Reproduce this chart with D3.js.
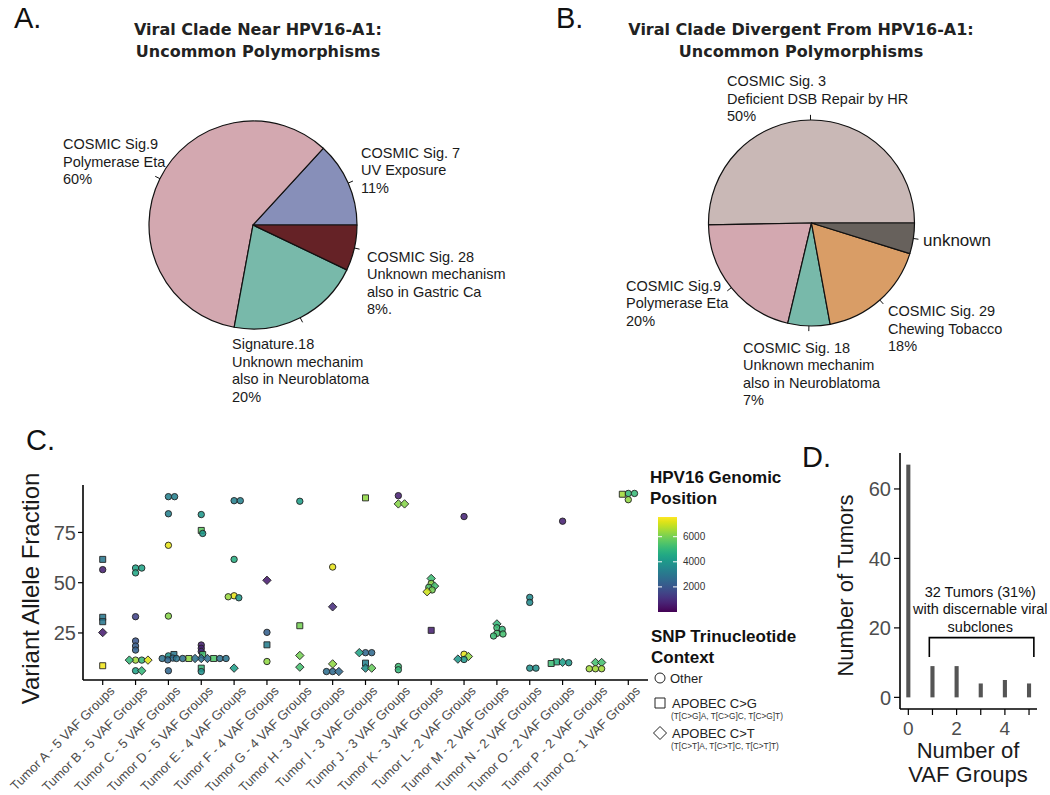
<!DOCTYPE html>
<html><head><meta charset="utf-8">
<script src="https://cdn.jsdelivr.net/npm/d3@7"></script>
<style>
body{margin:0;background:#fff;}
svg text{font-family:"Liberation Sans",Arial,Helvetica,sans-serif;}
</style></head><body>
<svg id="chart" width="1050" height="795"></svg>
<script>
// ---------------- DATA ----------------
// Panel A pie
const pieAValues = [13.2, 58.9, 20.8, 7.1];
const pieAColors = ["#878fb9", "#d3a8b0", "#78b9aa", "#652226"];
const pieALabels = [
  ["COSMIC Sig. 7", "UV Exposure", "11%"],
  ["COSMIC Sig.9", "Polymerase Eta", "60%"],
  ["Signature.18", "Unknown mechanim", "also in Neuroblatoma", "20%"],
  ["COSMIC Sig. 28", "Unknown mechanism", "also in Gastric Ca", "8%."]
];
// Panel B pie
const pieBValues = [50.3, 21.0, 6.6, 17.3, 4.8];
const pieBColors = ["#c9b8b6", "#d3a8b0", "#78b9aa", "#d99d66", "#67615c"];
const pieBLabels = [
  ["COSMIC Sig. 3", "Deficient DSB Repair by HR", "50%"],
  ["COSMIC Sig.9", "Polymerase Eta", "20%"],
  ["COSMIC Sig. 18", "Unknown mechanim", "also in Neuroblatoma", "7%"],
  ["COSMIC Sig. 29", "Chewing Tobacco", "18%"],
  ["unknown"]
];
const titleA = ["Viral Clade Near HPV16-A1:", "Uncommon Polymorphisms"];
const titleB = ["Viral Clade Divergent From HPV16-A1:", "Uncommon Polymorphisms"];

// Panel C scatter
const tumors = ["Tumor A - 5 VAF Groups","Tumor B - 5 VAF Groups","Tumor C - 5 VAF Groups","Tumor D - 5 VAF Groups",
  "Tumor E - 4 VAF Groups","Tumor F - 4 VAF Groups","Tumor G - 4 VAF Groups","Tumor H - 3 VAF Groups",
  "Tumor I - 3 VAF Groups","Tumor J - 3 VAF Groups","Tumor K - 3 VAF Groups","Tumor L - 2 VAF Groups",
  "Tumor M - 2 VAF Groups","Tumor N - 2 VAF Groups","Tumor O - 2 VAF Groups","Tumor P - 2 VAF Groups",
  "Tumor Q - 1 VAF Groups"];
// tumor index, VAF, HPV16 genomic position, context (O=Other, G=APOBEC C>G, T=APOBEC C>T)
const snvTumor = [0,0,0,0,0,0,
  1,1,1,1,1,1,1,1,1,1,1,1,1,
  2,2,2,2,2,2,2,2,2,2,2,
  3,3,3,3,3,3,3,3,3,3,3,3,3,3,3,3,3,3,
  4,4,4,4,4,4,4,
  5,5,5,5,
  6,6,6,6,
  7,7,7,7,7,7,
  8,8,8,8,8,8,8,
  9,9,9,9,9,
  10,10,10,10,10,10,10,
  11,11,11,11,11,
  12,12,12,12,12,12,
  13,13,13,13,
  14,14,14,14,14,
  15,15,15,15,15,
  16,16,16,16];
const snvVAF = [61.6,56.5,32.8,30.6,25.2,8.7,
  57.3,57.3,54.9,33.1,21.0,18.5,16.5,11.5,11.5,11.5,11.5,6.2,6.2,
  92.8,92.8,84.3,68.6,33.4,13.6,14.3,12.5,11.6,12.3,6.2,
  83.9,76.0,74.5,19.0,17.4,15.8,14.3,12.3,12.3,12.3,12.3,12.3,12.3,12.3,12.3,12.3,7.5,5.8,
  90.8,90.8,61.6,43.5,42.5,43.0,7.5,
  51.2,25.3,19.1,10.8,
  90.5,28.6,13.8,8.0,
  57.8,38.0,9.6,5.8,5.8,5.8,
  92.2,15.2,15.2,15.2,10.0,7.5,7.5,
  93.3,89.2,89.2,8.3,6.7,
  52.1,49.6,48.3,47.7,46.4,45.5,26.3,
  82.9,14.4,13.3,11.8,12.0,
  29.5,27.6,26.8,24.8,24.5,23.5,
  42.7,40.2,7.5,7.5,
  80.6,10.4,10.2,10.6,9.8,
  10.3,10.3,7.2,7.2,7.2,
  94.4,94.4,94.0,91.3];
const snvPos = [3000,700,3000,3000,600,7400,
  4400,4400,4500,1500,2000,2200,2300,6500,5000,5000,7200,4300,5000,
  3300,3300,3300,7300,6200,3900,3000,2600,2500,2800,2500,
  4000,5700,4000,700,700,900,5300,2700,2700,2800,5500,6300,2800,2800,2900,2900,5000,3800,
  3300,3300,4700,7300,4000,6400,4200,
  600,2300,3200,6300,
  4200,6000,6000,5300,
  7300,1000,6300,2600,2600,2700,
  6300,2500,2600,4400,3300,3800,5800,
  700,6200,6200,5200,5000,
  5200,6300,5300,5500,6000,7000,700,
  800,7300,6300,4000,4000,
  5000,5200,5000,5300,5300,5200,
  3600,3600,3800,3800,
  700,4200,4000,4800,5200,
  5300,5300,6500,6500,6500,
  5100,5100,6500,6300];
const snvCtx = ["G","O","G","G","T","G",
  "O","O","O","O","O","O","O","O","O","T","T","O","T",
  "O","O","O","O","O","O","G","O","O","O","O",
  "O","G","O","O","O","O","G","T","T","T","G","G","O","O","O","O","G","O",
  "O","O","O","O","O","O","T",
  "T","O","G","O",
  "O","G","T","T",
  "O","T","T","O","T","O",
  "G","O","O","T","G","T","T",
  "O","T","T","O","O",
  "T","O","T","O","O","T","G",
  "O","O","T","O","T",
  "T","O","O","O","O","O",
  "O","O","O","O",
  "O","T","O","G","G",
  "T","T","O","O","O",
  "O","O","G","O"];
const colorTicks = [2000, 4000, 6000];
const contextLabels = ["Other", "APOBEC C>G", "APOBEC C>T"];
const contextSub = ["", "(T[C>G]A, T[C>G]C, T[C>G]T)", "(T[C>T]A, T[C>T]C, T[C>T]T)"];
const contextCodes = ["O", "G", "T"];
const vafTicks = [25, 50, 75];

// Panel D histogram
const vafGroups = [0, 1, 2, 3, 4, 5];
const tumorCounts = [67, 9, 9, 4, 5, 4];
const countTicks = [0, 20, 40, 60];
const groupTickLabels = [0, 2, 4];
const bracketText = ["32 Tumors (31%)", "with discernable viral", "subclones"];

// ---------------- DRAW ----------------
const svg = d3.select("#chart");

// panel letters
[["A.",14,28],["B.",556,28],["C.",26,450],["D.",802,467]].forEach(([t,x,y])=>{
  svg.append("text").attr("x",x).attr("y",y).text(t)
    .style("font-size","29px").attr("fill","#111");
});

function title(lines, cx){
  lines.forEach((l,i)=>svg.append("text").attr("x",cx).attr("y",35+i*22).attr("text-anchor","middle")
    .style("font-family","'DejaVu Sans',sans-serif").style("font-weight","bold").style("font-size","16px")
    .attr("fill","#222").text(l));
}
title(titleA, 258);
title(titleB, 801);

function drawPie(cx, cy, r, values, colors, labels, pos, sizes){
  const g = svg.append("g").attr("transform",`translate(${cx},${cy})`);
  const arcs = d3.pie().sort(null).startAngle(Math.PI/2).endAngle(Math.PI/2 - 2*Math.PI)(values);
  const arc = d3.arc().innerRadius(0).outerRadius(r);
  g.selectAll("path").data(arcs).join("path").attr("d",arc)
    .attr("fill",(d,i)=>colors[i]).attr("stroke","#111").attr("stroke-width",1.2).attr("stroke-linejoin","round");
  arcs.forEach(a=>{
    const m=(a.startAngle+a.endAngle)/2;
    g.append("line").attr("x1",Math.sin(m)*r).attr("y1",-Math.cos(m)*r)
      .attr("x2",Math.sin(m)*r*1.05).attr("y2",-Math.cos(m)*r*1.05).attr("stroke","#111").attr("stroke-width",1);
  });
  labels.forEach((lines,i)=>{
    const t = svg.append("text").attr("x",pos[i][0]).attr("y",pos[i][1])
      .style("font-size",(sizes[i]||14.5)+"px").attr("fill","#1a1a1a");
    lines.forEach((l,j)=>t.append("tspan").attr("x",pos[i][0]).attr("y",pos[i][1]+j*17.5).text(l));
  });
}
drawPie(253, 225, 104, pieAValues, pieAColors, pieALabels,
  [[361,157.5],[63,149],[232,349],[367,261.5]], []);
drawPie(811.5, 223, 103, pieBValues, pieBColors, pieBLabels,
  [[727,86],[626,290.5],[743,352.5],[888,316],[923,246]], [14.5,14.5,14.5,14.5,17]);

// ---------- Panel C ----------
const cL=83, cR=648, cT=485, cB=680;
const x = d3.scalePoint().domain(tumors).range([cL,cR]).padding(0.6);
const y = d3.scaleLinear().domain([1.6,98.6]).range([cB,cT]);
const color = d3.scaleSequential(d3.interpolateViridis).domain([0,7570]);

const pts = snvVAF.map((v,i)=>({t:tumors[snvTumor[i]], v, pos:snvPos[i], ctx:snvCtx[i], py:y(v)}));
// beeswarm layout per tumor (anisotropic collision)
const D = 6.2, K = 2;
d3.group(pts, p=>p.t).forEach(arr=>{
  const placed=[];
  arr.forEach(p=>{
    const cands=[0];
    placed.forEach(q=>{
      const dy=(p.py-q.py)*K;
      if(Math.abs(dy)<D){ const dx=Math.sqrt(D*D-dy*dy); cands.push(q.ox+dx, q.ox-dx); }
    });
    cands.sort((a,b)=>Math.abs(a)-Math.abs(b) || b-a);
    for(const c of cands){
      if(placed.every(q=>{const dx=c-q.ox, dy=(p.py-q.py)*K; return dx*dx+dy*dy >= D*D-0.01;})){p.ox=c;break;}
    }
    placed.push(p);
  });
});

const gC = svg.append("g");
function shapePath(ctx){
  if(ctx==="O") return d3.symbol().type(d3.symbolCircle).size(Math.PI*3.2*3.2)();
  if(ctx==="G") return "M-3,-3H3V3H-3Z";
  return "M0,-4.2L4.2,0L0,4.2L-4.2,0Z";
}
gC.selectAll("path.pt").data(pts).join("path").attr("class","pt")
  .attr("transform",p=>`translate(${x(p.t)+p.ox},${p.py})`)
  .attr("d",p=>shapePath(p.ctx))
  .attr("fill",p=>color(p.pos)).attr("fill-opacity",0.88)
  .attr("stroke","#222").attr("stroke-width",0.9);

// axes C
gC.append("line").attr("x1",cL).attr("x2",cR).attr("y1",cB).attr("y2",cB).attr("stroke","#000").attr("stroke-width",1.6);
gC.append("line").attr("x1",cL).attr("x2",cL).attr("y1",cT).attr("y2",cB).attr("stroke","#000").attr("stroke-width",1.6);
vafTicks.forEach(v=>{
  gC.append("line").attr("x1",cL-5).attr("x2",cL).attr("y1",y(v)).attr("y2",y(v)).attr("stroke","#000").attr("stroke-width",1.2);
  gC.append("text").attr("x",cL-7).attr("y",y(v)).attr("dy","0.36em").attr("text-anchor","end")
    .style("font-size","20px").attr("fill","#4d4d4d").text(v);
});
tumors.forEach(t=>{
  gC.append("line").attr("x1",x(t)).attr("x2",x(t)).attr("y1",cB).attr("y2",cB+5).attr("stroke","#000").attr("stroke-width",1.2);
  gC.append("text").attr("transform",`translate(${x(t)+6},${cB+5}) rotate(-45)`)
    .attr("text-anchor","end").attr("dy","0.72em").style("font-size","13px").attr("fill","#4d4d4d").text(t);
});
gC.append("text").attr("transform",`translate(38.5,588.5) rotate(-90)`).attr("text-anchor","middle")
  .style("font-size","24px").attr("fill","#1a1a1a").text("Variant Allele Fraction");

// legend: colorbar
const lg = svg.append("g");
lg.append("text").attr("x",650).attr("y",483).style("font-size","17px").style("font-weight","bold").attr("fill","#111").text("HPV16 Genomic");
lg.append("text").attr("x",650).attr("y",504).style("font-size","17px").style("font-weight","bold").attr("fill","#111").text("Position");
const grad = svg.append("defs").append("linearGradient").attr("id","vir").attr("x1","0").attr("y1","1").attr("x2","0").attr("y2","0");
d3.range(0,1.0001,0.05).forEach(s=>grad.append("stop").attr("offset",s).attr("stop-color",d3.interpolateViridis(s)));
const cbY = d3.scaleLinear().domain([0,7570]).range([612,517]);
lg.append("rect").attr("x",658).attr("y",517).attr("width",19).attr("height",95).attr("fill","url(#vir)");
colorTicks.forEach(v=>{
  lg.append("line").attr("x1",658).attr("x2",662).attr("y1",cbY(v)).attr("y2",cbY(v)).attr("stroke","#fff").attr("stroke-width",1);
  lg.append("line").attr("x1",673).attr("x2",677).attr("y1",cbY(v)).attr("y2",cbY(v)).attr("stroke","#fff").attr("stroke-width",1);
  lg.append("text").attr("x",683).attr("y",cbY(v)).attr("dy","0.35em").style("font-size","10px").attr("fill","#333").text(v);
});
lg.append("text").attr("x",651).attr("y",642).style("font-size","17px").style("font-weight","bold").attr("fill","#111").text("SNP Trinucleotide");
lg.append("text").attr("x",651).attr("y",663).style("font-size","17px").style("font-weight","bold").attr("fill","#111").text("Context");
const legY = [678, 703, 733];
contextCodes.forEach((c,i)=>{
  const p = c==="O" ? d3.symbol().type(d3.symbolCircle).size(Math.PI*25)() : c==="G" ? "M-5,-5H5V5H-5Z" : "M0,-6.5L6.5,0L0,6.5L-6.5,0Z";
  lg.append("path").attr("d",p).attr("transform",`translate(660,${legY[i]})`).attr("fill","#fff").attr("stroke","#222").attr("stroke-width",1);
  lg.append("text").attr("x",c==="O"?670:672).attr("y",legY[i]).attr("dy","0.36em").style("font-size","13px").attr("fill","#222").text(contextLabels[i]);
  if(contextSub[i]) lg.append("text").attr("x",671).attr("y",legY[i]+16).style("font-size","8.3px").attr("fill","#333").text(contextSub[i]);
});

// ---------- Panel D ----------
const dL=900, dR=1037, dT=453, dB=709;
const xd = d3.scaleLinear().domain([-0.345,5.33]).range([dL,dR]);
const yd = d3.scaleLinear().domain([-3.35,70.35]).range([dB,dT]);
const gD = svg.append("g");
gD.selectAll("rect").data(vafGroups).join("rect")
  .attr("x",d=>xd(d-0.085)).attr("width",xd(0.085)-xd(-0.085))
  .attr("y",(d,i)=>yd(tumorCounts[i])).attr("height",(d,i)=>yd(0)-yd(tumorCounts[i]))
  .attr("fill","#555");
gD.append("line").attr("x1",dL).attr("x2",dR).attr("y1",dB).attr("y2",dB).attr("stroke","#000").attr("stroke-width",1.6);
gD.append("line").attr("x1",dL).attr("x2",dL).attr("y1",dT).attr("y2",dB).attr("stroke","#000").attr("stroke-width",1.6);
countTicks.forEach(v=>{
  gD.append("line").attr("x1",dL-6).attr("x2",dL).attr("y1",yd(v)).attr("y2",yd(v)).attr("stroke","#000").attr("stroke-width",1.2);
  gD.append("text").attr("x",dL-9).attr("y",yd(v)).attr("dy","0.36em").attr("text-anchor","end")
    .style("font-size","20px").attr("fill","#4d4d4d").text(v);
});
vafGroups.forEach(v=>{
  gD.append("line").attr("x1",xd(v)).attr("x2",xd(v)).attr("y1",dB).attr("y2",dB+6).attr("stroke","#000").attr("stroke-width",1.2);
});
groupTickLabels.forEach(v=>{
  gD.append("text").attr("x",xd(v)).attr("y",735).attr("text-anchor","middle").style("font-size","19px").attr("fill","#4d4d4d").text(v);
});
gD.append("text").attr("x",968).attr("y",758).attr("text-anchor","middle").style("font-size","22px").attr("fill","#1a1a1a").text("Number of");
gD.append("text").attr("x",968).attr("y",782).attr("text-anchor","middle").style("font-size","22px").attr("fill","#1a1a1a").text("VAF Groups");
gD.append("text").attr("transform","translate(853,585.5) rotate(-90)").attr("text-anchor","middle")
  .style("font-size","22px").attr("fill","#1a1a1a").text("Number of Tumors");
// bracket
gD.append("path").attr("d",`M${xd(0.87)},${yd(11.6)}V${yd(17.2)}H${xd(5.2)}V${yd(11.6)}`)
  .attr("fill","none").attr("stroke","#000").attr("stroke-width",1.6);
bracketText.forEach((l,i)=>gD.append("text").attr("x",xd(2.98)).attr("y",596.5+i*17.5).attr("text-anchor","middle")
  .style("font-size","14.5px").attr("fill","#111").text(l));
</script>
</body></html>
